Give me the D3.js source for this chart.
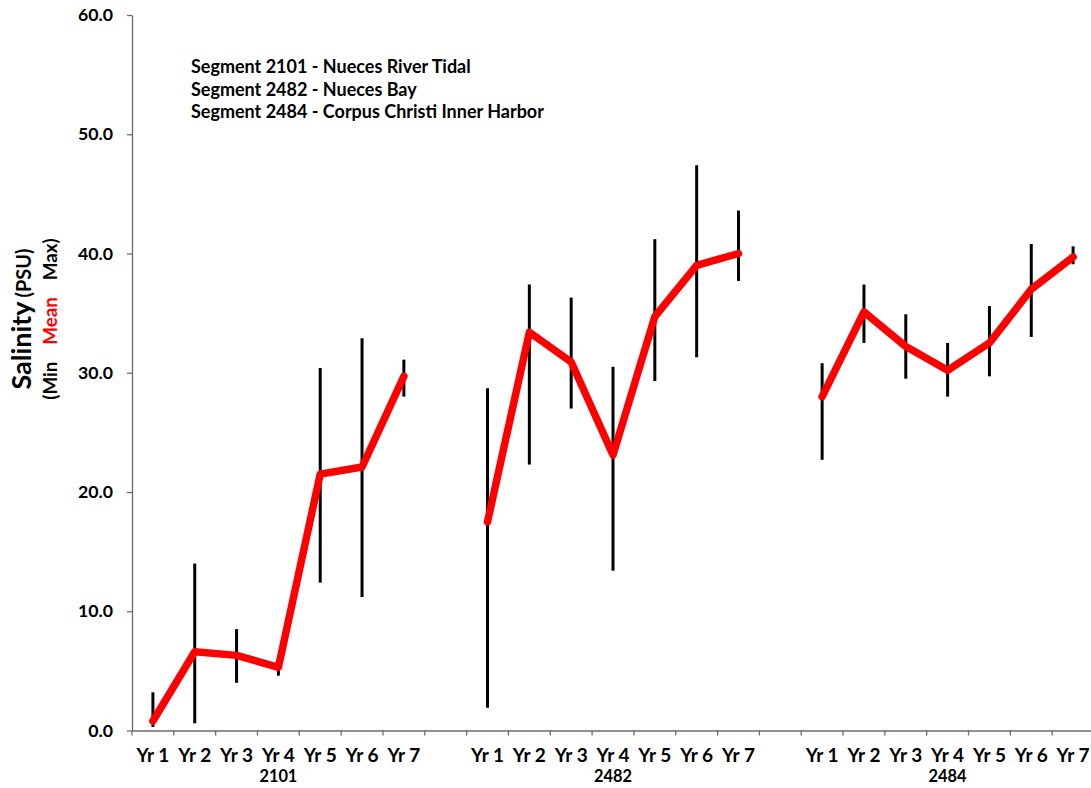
<!DOCTYPE html>
<html>
<head>
<meta charset="utf-8">
<script src="https://cdn.jsdelivr.net/npm/d3@7"></script>
<style>
  html, body { margin: 0; padding: 0; background: #fff; }
  svg { display: block; font-family: Lato, "Open Sans", sans-serif; font-weight: bold; }
</style>
</head>
<body>
<svg id="chart" width="1091" height="788"></svg>
<script>
// ---- data ----
const segments = ["2101", "2482", "2484"];
const years = ["Yr 1", "Yr 2", "Yr 3", "Yr 4", "Yr 5", "Yr 6", "Yr 7"];
const meanValues = {
  "2101": [0.8, 6.6, 6.3, 5.3, 21.5, 22.1, 29.7],
  "2482": [17.5, 33.4, 30.9, 23.1, 34.7, 39.0, 40.0],
  "2484": [28.0, 35.1, 32.2, 30.2, 32.5, 37.0, 39.7]
};
const minValues = {
  "2101": [0.3, 0.6, 4.0, 4.6, 12.4, 11.2, 28.0],
  "2482": [1.9, 22.3, 27.0, 13.4, 29.3, 31.3, 37.7],
  "2484": [22.7, 32.5, 29.5, 28.0, 29.7, 33.0, 39.1]
};
const maxValues = {
  "2101": [3.2, 14.0, 8.5, 5.6, 30.4, 32.9, 31.1],
  "2482": [28.7, 37.4, 36.3, 30.5, 41.2, 47.4, 43.6],
  "2484": [30.8, 37.4, 34.9, 32.5, 35.6, 40.8, 40.6]
};
const yTicks = [0, 10, 20, 30, 40, 50, 60];
const noteLines = [
  "Segment 2101 - Nueces River Tidal",
  "Segment 2482 - Nueces Bay",
  "Segment 2484 - Corpus Christi Inner Harbor"
];

// ---- helpers ----
function fitSize(node, target) {
  const w = node.getComputedTextLength();
  const fs = parseFloat(getComputedStyle(node).fontSize);
  return w > 0 ? fs * target / w : fs;
}

// ---- layout ----
const svg = d3.select("#chart");
const plotLeft = 132, plotRight = 1094, plotTop = 15, plotBottom = 730.5;

const slots = [];
segments.forEach((s, i) => {
  years.forEach(yr => slots.push({ key: s + "|" + yr, seg: s, label: yr }));
  if (i < segments.length - 1) slots.push({ key: "gap" + i, seg: null, label: "" });
});

const x = d3.scaleBand().domain(slots.map(d => d.key)).range([plotLeft, plotRight]).padding(0);
const y = d3.scaleLinear().domain([0, 60]).range([plotBottom, plotTop]);
const axisColor = "#6b6b6b";

// ---- y axis ----
const yAxis = svg.append("g")
  .attr("transform", `translate(${plotLeft},0)`)
  .call(d3.axisLeft(y).tickValues(yTicks).tickFormat(d3.format(".1f")).tickSize(5).tickSizeOuter(0));
yAxis.select(".domain").attr("stroke", axisColor).attr("stroke-width", 1.3);
yAxis.selectAll(".tick line").attr("stroke", axisColor).attr("stroke-width", 1.3);
const yLabels = yAxis.selectAll(".tick text")
  .attr("x", -19)
  .attr("fill", "#000")
  .style("font-family", "Lato, sans-serif")
  .style("font-weight", "bold")
  .style("font-size", "16px");
const yFs = fitSize(yLabels.nodes()[yLabels.size() - 1], 35);
yLabels.style("font-size", yFs + "px");

// ---- x axis ----
const xAxis = svg.append("g")
  .attr("transform", `translate(0,${plotBottom})`)
  .call(d3.axisBottom(x).tickSize(0).tickSizeOuter(0).tickFormat(k => slots.find(s => s.key === k).label));
xAxis.select(".domain").attr("stroke", axisColor).attr("stroke-width", 1.3);
const xLabels = xAxis.selectAll(".tick text")
  .attr("y", 31)
  .attr("dy", 0)
  .attr("fill", "#000")
  .style("font-family", "Lato, sans-serif")
  .style("font-weight", "bold")
  .style("font-size", "16px");
const xFs = fitSize(xLabels.nodes()[0], 33);
xLabels.style("font-size", xFs + "px");

xAxis.selectAll(".boundary")
  .data(slots)
  .enter().append("line")
  .attr("class", "boundary")
  .attr("x1", d => x(d.key)).attr("x2", d => x(d.key))
  .attr("y1", 0).attr("y2", 5)
  .attr("stroke", axisColor).attr("stroke-width", 1.3);

// group labels
const gLabels = svg.append("g").selectAll("text")
  .data(segments)
  .enter().append("text")
  .attr("x", s => x(s + "|Yr 4") + x.bandwidth() / 2)
  .attr("y", 782)
  .attr("text-anchor", "middle")
  .style("font-size", "16px")
  .text(s => s);
const gFs = fitSize(gLabels.nodes()[0], 38);
gLabels.style("font-size", gFs + "px");

// ---- y title ----
const title1 = svg.append("text")
  .attr("transform", "translate(31,319) rotate(-90)")
  .attr("text-anchor", "middle");
const tSal = title1.append("tspan").style("font-size", "24px").text("Salinity");
const tPsu = title1.append("tspan").style("font-size", "15px").attr("dx", 4).text("(PSU)");
tSal.style("font-size", fitSize(tSal.node(), 88) + "px");
tPsu.style("font-size", fitSize(tPsu.node(), 49) + "px");

const title2 = svg.append("text")
  .attr("transform", "translate(57,319) rotate(-90)")
  .attr("text-anchor", "middle")
  .style("font-size", "15px");
const tMin = title2.append("tspan").text("(Min");
title2.append("tspan").attr("dx", 17).attr("fill", "#ff0000").text("Mean");
title2.append("tspan").attr("dx", 17).text("Max)");
title2.style("font-size", fitSize(tMin.node(), 38) + "px");

// ---- note ----
const notes = svg.append("g").selectAll("text")
  .data(noteLines)
  .enter().append("text")
  .attr("x", 191)
  .attr("y", (d, i) => 73 + i * 22.5)
  .style("font-size", "15px")
  .text(d => d);
const nFs = fitSize(notes.nodes()[2], 353);
notes.style("font-size", nFs + "px");

// ---- min/max bars ----
const cx = (s, i) => x(s + "|" + years[i]) + x.bandwidth() / 2;
const barData = [];
segments.forEach(s => years.forEach((yr, i) => barData.push({ s, i, lo: minValues[s][i], hi: maxValues[s][i] })));
svg.append("g").selectAll("line")
  .data(barData)
  .enter().append("line")
  .attr("x1", d => cx(d.s, d.i)).attr("x2", d => cx(d.s, d.i))
  .attr("y1", d => y(d.lo)).attr("y2", d => y(d.hi))
  .attr("stroke", "#000").attr("stroke-width", 3);

// ---- mean lines ----
const line = d3.line().x(d => d[0]).y(d => d[1]);
svg.append("g").selectAll("path")
  .data(segments)
  .enter().append("path")
  .attr("d", s => line(meanValues[s].map((v, i) => [cx(s, i), y(v)])))
  .attr("fill", "none")
  .attr("stroke", "#ff0000")
  .attr("stroke-width", 7.5)
  .attr("stroke-linejoin", "round")
  .attr("stroke-linecap", "round");
</script>
</body>
</html>
